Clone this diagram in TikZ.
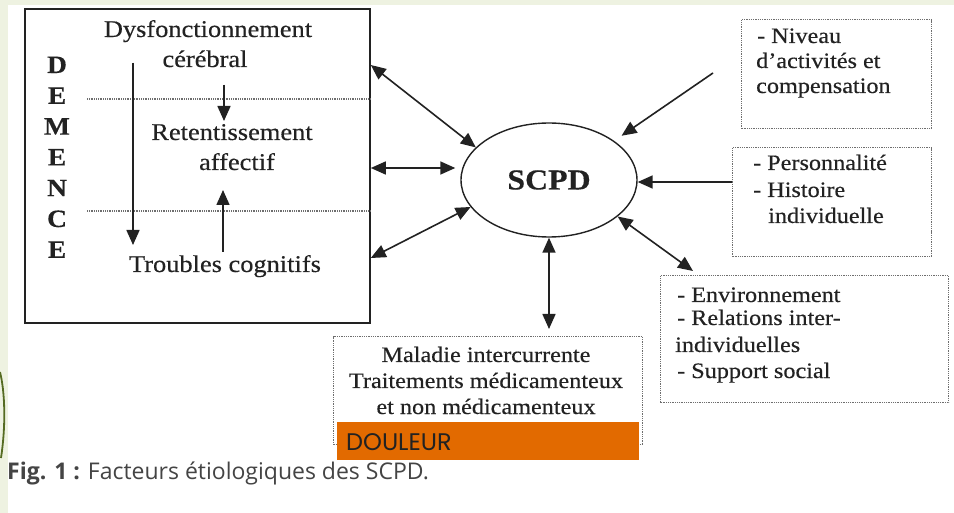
\documentclass[tikz,border=0pt]{standalone}
\usepackage{fontspec}
\setmainfont[FakeStretch=1.1,FakeBold=0.35]{Liberation Serif}
\newfontfamily\capfont{Open Sans}
\newfontfamily\doufont{Poppins}
\usetikzlibrary{shapes.geometric,arrows.meta,calc}
\definecolor{bggreen}{HTML}{EEF2E1}
\definecolor{ink}{HTML}{222222}
\definecolor{dotgray}{HTML}{6E6E6E}
\definecolor{orangebar}{HTML}{E26A00}
\definecolor{capgray}{HTML}{444444}
\definecolor{leafgreen}{HTML}{556B22}
\begin{document}
\begin{tikzpicture}[x=1pt,y=-1pt,
  tip/.tip={Triangle[length=15pt,width=13pt]},
  arr/.style={-tip, line width=1.6pt, draw=ink, fill=ink},
  darr/.style={tip-tip, line width=1.6pt, draw=ink, fill=ink},
  dotbox/.style={draw=dotgray, line width=1.4pt, dash pattern=on 1pt off 0.8pt, inner sep=0pt, anchor=north west},
  hline/.style={draw=dotgray, line width=1.1pt, dash pattern=on 1pt off 0.8pt},
  lbl/.style={inner sep=0pt, text=ink, font=\fontsize{24}{30}\selectfont},
  sml/.style={inner sep=0pt, text=ink, font=\fontsize{22}{26}\selectfont},
  dem/.style={inner sep=0pt, text=ink, font=\bfseries\fontsize{25}{30}\selectfont, anchor=base},
]
\useasboundingbox (0,0) rectangle (954,513);
\fill[bggreen] (0,0) rectangle (954,513);
\fill[white] (8,5) rectangle (954,513);
\draw[leafgreen, line width=1.8pt] (0,372) .. controls (5,392) and (6,425) .. (1,458);

% DEMENCE box
\node[draw=ink, line width=1.8pt, minimum width=345pt, minimum height=314pt, inner sep=0pt, anchor=north west] (dbox) at (24,8) {};
\coordinate (h1) at (87,99);
\coordinate (h2) at (87,211);
\draw[hline] (h1) -- (h1 -| dbox.east);
\draw[hline] (h2) -- (h2 -| dbox.east);

\foreach \L [count=\i] in {D,E,M,E,N,C,E}
  \node[dem] (dm\i) at (57,{73+(\i-1)*30.8}) {\L};

\node[lbl, anchor=base] (dys1) at (208,37) {Dysfonctionnement};
\node[lbl, anchor=base] (dys2) at (205,67) {cérébral};
\node[lbl, anchor=base] (ret1) at (232,140) {Retentissement};
\node[lbl, anchor=base] (ret2) at (237,170) {affectif};
\node[lbl, anchor=base] (tro) at (225,272) {Troubles cognitifs};

\coordinate (la) at (133,63);
\coordinate (lb) at (133,245);
\draw[arr] (la) -- (lb);
\coordinate (sa) at (224,85);
\coordinate (sb) at (224,121);
\draw[arr] (sa) -- (sb);
\coordinate (ua) at (223,252);
\coordinate (ub) at (223,190);
\draw[arr] (ua) -- (ub);

% SCPD
\node[ellipse, draw=ink, line width=1.4pt, minimum width=176pt, minimum height=114pt, inner sep=0pt,
      font=\bfseries\fontsize{29}{34}\selectfont, text=ink] (scpd) at (549,180) {SCPD};

% right boxes
\node[dotbox, minimum width=190pt, minimum height=109pt] (b1) at (741,19) {};
\node[dotbox, minimum width=199pt, minimum height=109pt] (b2) at (732,147) {};
\node[dotbox, minimum width=288pt, minimum height=127pt] (b3) at (660,275) {};
\node[dotbox, minimum width=309pt, minimum height=108pt] (b4) at (333,336) {};

\node[sml, anchor=base west] (n1) at (757,43) {- Niveau};
\node[sml, anchor=base west] (n2) at (756,68) {d’activités et};
\node[sml, anchor=base west] (n3) at (756,93) {compensation};

\node[sml, anchor=base west] (p1) at (753,170) {- Personnalité};
\node[sml, anchor=base west] (p2) at (753,197) {- Histoire};
\node[sml, anchor=base west] (p3) at (768,223) {individuelle};

\node[sml, anchor=base west] (e1) at (677,302) {- Environnement};
\node[sml, anchor=base west] (e2) at (677,325) {- Relations inter-};
\node[sml, anchor=base west] (e3) at (675,352) {individuelles};
\node[sml, anchor=base west] (e4) at (677,378) {- Support social};

\node[sml, anchor=base] (m1) at (486,362) {Maladie intercurrente};
\node[sml, anchor=base] (m2) at (486,388) {Traitements médicamenteux};
\node[sml, anchor=base] (m3) at (486,414) {et non médicamenteux};

% DOULEUR
\node[fill=orangebar, minimum width=302pt, minimum height=38pt, inner sep=0pt, anchor=north west] (dou) at (337,422) {};
\node[anchor=base west, inner sep=0pt, font=\doufont\fontsize{24}{24}\selectfont, text=ink] (doutxt) at (346,450) {DOULEUR};

% caption
\node[anchor=base west, inner sep=0pt, font=\capfont\fontsize{23}{23}\selectfont, text=capgray] (cap) at (7,479) {\textbf{Fig. 1 :} Facteurs étiologiques des SCPD.};

% connectors
\coordinate (de1) at ($(dbox.north east)+(0,57)$);
\coordinate (de2) at ($(dbox.north east)+(0,160)$);
\coordinate (de3) at ($(dbox.north east)+(0,250)$);
\draw[darr] (de1) -- (scpd.156);
\draw[darr, shorten >=5pt] (de2) -- (scpd.west |- de2);
\draw[darr] (de3) -- (scpd.199);
\draw[darr, shorten >=7pt] (scpd.south) -- (b4.north -| scpd.south);
\coordinate (f5) at (713,73);
\draw[arr, shorten >=9pt] (f5) -- (scpd.31);
\coordinate (g6) at ($(b2.north west)+(0,35)$);
\draw[arr] (g6) -- (scpd.east |- g6);
\coordinate (h7) at ($(b3.north west)+(33,-4)$);
\draw[darr] (scpd.-28) -- (h7);
\end{tikzpicture}
\end{document}
